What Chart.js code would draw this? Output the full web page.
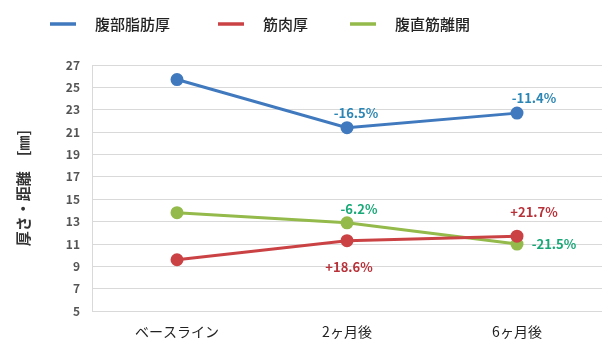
<!DOCTYPE html>
<html><head><meta charset="utf-8">
<script src="https://cdn.jsdelivr.net/npm/chart.js@4.4.1/dist/chart.umd.min.js"></script>
<style>html,body{margin:0;padding:0;background:#fff}#wrap{width:610px;height:363px;position:relative}</style>
</head><body><div id="wrap"><canvas id="c"></canvas></div>
<script>
const categories = ['ベースライン', '2ヶ月後', '6ヶ月後'];
const seriesNames = ['腹部脂肪厚', '筋肉厚', '腹直筋離開'];
const fatValues = [25.7, 21.4, 22.7];
const muscleValues = [9.6, 11.3, 11.7];
const diastasisValues = [13.8, 12.9, 11.0];
const fatLabels = ['', '-16.5%', '-11.4%'];
const muscleLabels = ['', '+18.6%', '+21.7%'];
const diastasisLabels = ['', '-6.2%', '-21.5%'];
const yTicks = [5, 7, 9, 11, 13, 15, 17, 19, 21, 23, 25, 27];

const FONT = '"Noto Sans CJK JP", "Noto Sans", sans-serif';
const colors = ['#4079BE', '#CB4245', '#93BA4A'];
const labelColors = ['#2B86B5', '#B8323A', '#18A878'];
// label placement: [dx, dy] relative to point, per series per point
const labelOffsets = [
  [[0,0],[9,-15],[17,-15]],
  [[0,0],[2,26],[17,-24]],
  [[0,0],[12,-14],[37,0]]
];
const allLabels = [fatLabels, muscleLabels, diastasisLabels];

const labelPlugin = {
  id: 'pctLabels',
  afterDatasetsDraw(chart) {
    const ctx = chart.ctx;
    ctx.save();
    ctx.font = 'bold 13px ' + FONT;
    ctx.textAlign = 'center';
    ctx.textBaseline = 'middle';
    chart.data.datasets.forEach((ds, i) => {
      const meta = chart.getDatasetMeta(i);
      meta.data.forEach((pt, j) => {
        const t = allLabels[i][j];
        if (!t) return;
        ctx.fillStyle = labelColors[i];
        ctx.fillText(t, pt.x + labelOffsets[i][j][0], pt.y + labelOffsets[i][j][1]);
      });
    });
    ctx.restore();
  }
};

const legendPlugin = {
  id: 'customLegend',
  afterDraw(chart) {
    const ctx = chart.ctx;
    ctx.save();
    const xs = [50, 218, 350];
    const y = 24;
    ctx.font = '500 15px ' + FONT;
    ctx.textBaseline = 'middle';
    ctx.textAlign = 'left';
    chart.data.datasets.forEach((ds, i) => {
      ctx.strokeStyle = colors[i];
      ctx.lineWidth = 3.5;
      ctx.beginPath();
      ctx.moveTo(xs[i], y);
      ctx.lineTo(xs[i] + 26, y);
      ctx.stroke();
      ctx.fillStyle = '#222';
      ctx.fillText(ds.label, xs[i] + 45, y);
    });
    ctx.restore();
  }
};

const mk = (i, data) => ({
  label: seriesNames[i], data,
  borderColor: colors[i], backgroundColor: colors[i],
  borderWidth: 3, pointRadius: 5, pointHoverRadius: 5,
  pointBackgroundColor: colors[i], pointBorderColor: colors[i],
  tension: 0
});

new Chart(document.getElementById('c'), {
  type: 'line',
  data: {
    labels: categories,
    datasets: [mk(0, fatValues), mk(1, muscleValues), mk(2, diastasisValues)]
  },
  options: {
    responsive: true, maintainAspectRatio: false, animation: false,
    layout: { padding: { top: 65, right: 7, bottom: 11, left: 10 } },
    plugins: { legend: { display: false }, tooltip: { enabled: false } },
    scales: {
      x: {
        offset: true,
        grid: { display: false, drawTicks: false },
        border: { display: false },
        ticks: { color: '#222', font: { family: FONT, size: 14 }, padding: 12 }
      },
      y: {
        min: 5, max: 27,
        afterBuildTicks(scale) { scale.ticks = yTicks.map(v => ({ value: v })); },
        afterFit(scale) { scale.width = 82; },
        grid: { color: '#d9d9d9', lineWidth: 1, drawTicks: false },
        border: { display: true, color: '#d9d9d9' },
        ticks: { color: '#555', font: { family: FONT, size: 12, weight: 'bold' }, padding: 12 },
        title: { display: true, text: '厚さ・距離　[㎜]', color: '#333', font: { family: FONT, size: 15, weight: 'bold' }, padding: { top: 4, bottom: 0 } }
      }
    }
  },
  plugins: [labelPlugin, legendPlugin]
});
</script></body></html>
